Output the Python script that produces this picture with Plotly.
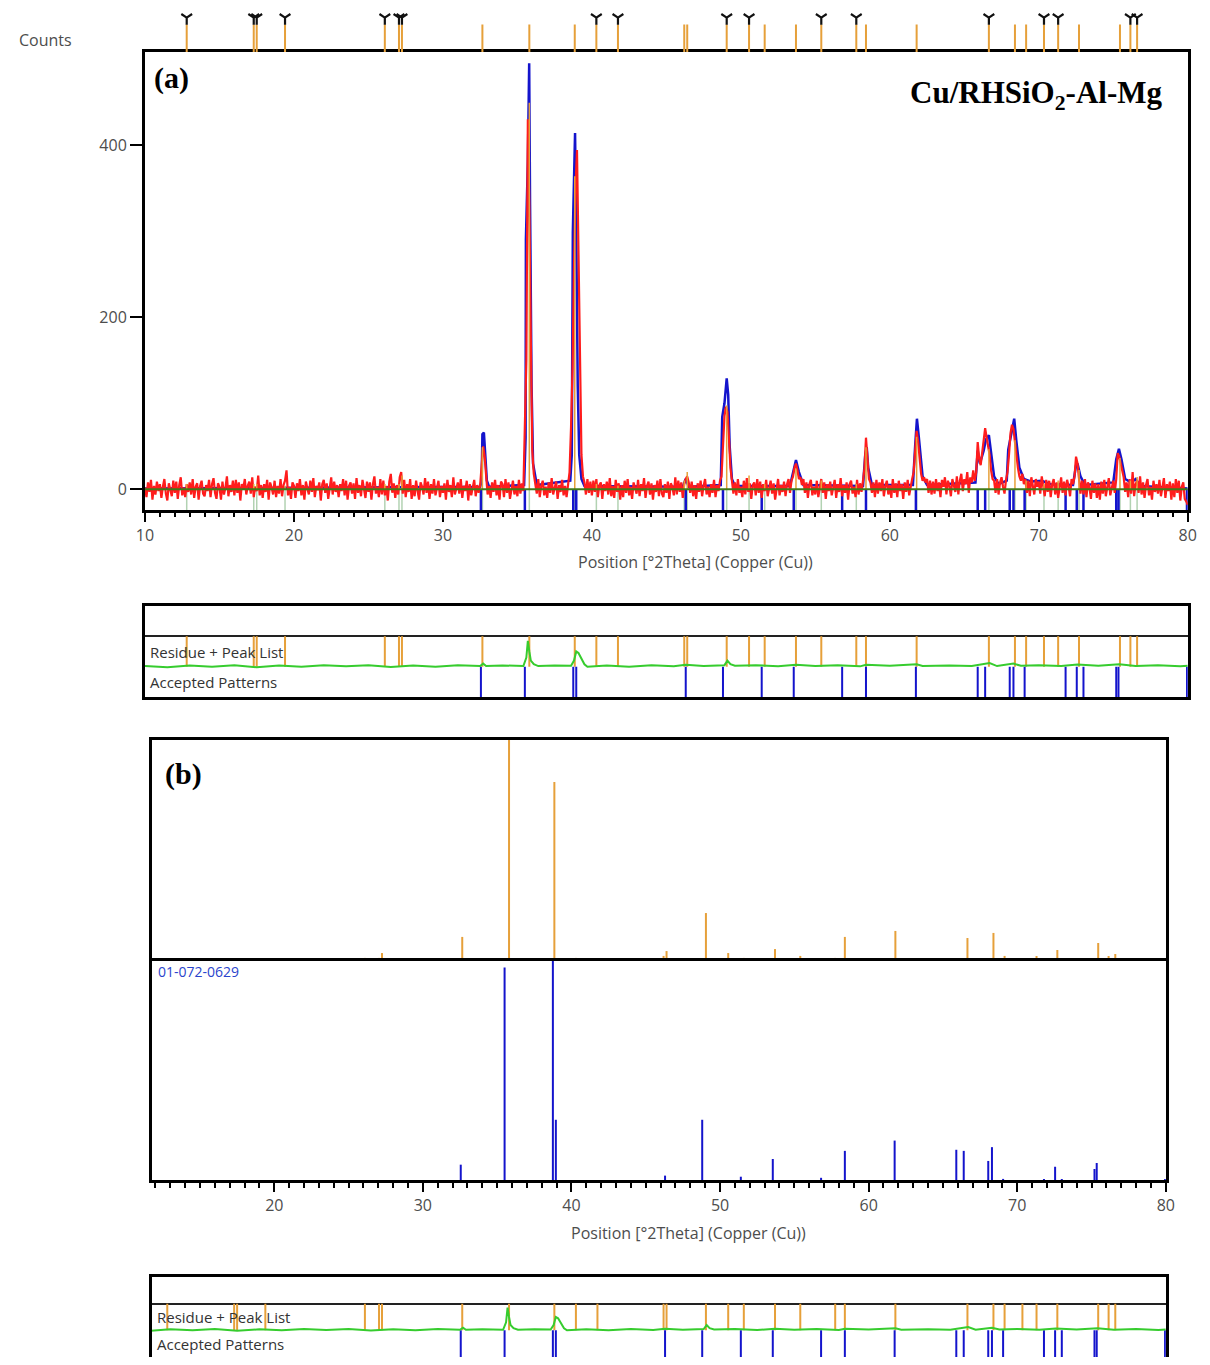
import numpy as np
import plotly.graph_objects as go

# ---------------- data ----------------
SCAN_START, SCAN_STEP = 10.0, 0.1
OBS_Y = [
    2, -9, 8, -3, 11, -12, 4, -6, 9, -2,          # 10
    6, -10, 3, 12, -5, -13, 7, 1, -8, 10,         # 11
    -4, 9, -11, 5, 14, -7, 2, -9, 6, -3,          # 12
    8, -6, 12, -10, 3, 7, -12, 4, 10, -5,         # 13
    -8, 5, -2, 11, -9, 6, 13, -4, -11, 7,         # 14
    3, -12, 9, -6, 2, 15, -8, 5, -3, 10,          # 15
    -7, 11, -4, 8, -13, 6, 1, 12, -6, 4,          # 16
    9, -5, 14, -9, 3, -2, 16, -7, 5, -10,         # 17
    6, -3, 11, -12, 8, 2, -6, 10, -9, 4,          # 18
    -5, 12, -8, 5, 10, 22, -7, 3, -11, 8,         # 19
    4, -10, 7, -2, 12, -7, 5, -12, 9, 1,          # 20
    -6, 10, -3, 13, -9, 4, -1, 8, -13, 6,         # 21
    11, -4, 7, -11, 3, 14, -6, 9, -3, 5,          # 22
    -9, 6, -2, 12, -7, 10, -12, 4, 8, -5,         # 23
    7, -11, 13, -4, 5, -8, 11, -2, -10, 9,        # 24
    -3, 8, -12, 6, 15, -5, 3, -9, 12, -6,         # 25
    10, -7, 4, -13, 9, 18, -4, 7, -10, 5,         # 26
    -6, 14, 20, -5, 11, -9, 6, -3, 12, -11,       # 27
    5, -8, 10, -2, -12, 8, 3, -6, 13, -4,         # 28
    9, -11, 6, -5, 12, -7, 2, 10, -9, 4,          # 29
    -4, 7, -12, 11, -3, 5, -9, 14, -6, 2,         # 30
    8, -5, 12, -10, 4, -2, 10, -13, 6, -7,        # 31
    3, 11, -8, 5, -4, 5, 28, 50, 38, 12,          # 32
    -6, 4, -10, 8, -3, 11, -7, 5, -12, 9,         # 33
    6, -9, 12, -4, 8, -11, 3, 10, -6, 4,          # 34
    -8, 11, -5, 7, -2, 60, 150, 430, 330, 175,    # 35
    45, 18, 8, -5, 12, -9, 4, 10, -7, 3,          # 36
    -10, 8, -4, 13, -6, 2, 9, -11, 5, -3,         # 37
    11, -7, 4, -9, 10, 20, 72, 140, 260, 350,     # 38
    394, 264, 111, 40, 15, 8, -6, 12, -4, 9,      # 39
    -7, 10, -3, 12, -9, 5, 8, -11, 6, -2,         # 40
    9, -6, 13, -8, 4, -10, 11, -3, 7, -12,        # 41
    5, -9, 10, -4, 12, -7, 3, -11, 8, 2,          # 42
    -5, 11, -8, 6, -2, 13, -10, 4, 9, -6,         # 43
    7, -12, 5, -3, 10, -8, 12, -5, -9, 6,         # 44
    -4, 9, -11, 7, 3, -7, 14, -6, 10, -3,         # 45
    8, -10, 6, 12, 15, 8, -4, 9, -8, 5,           # 46
    -11, 7, -3, 10, -8, 4, 12, -6, 3, -9,         # 47
    6, -4, 11, -9, 5, -2, 10, 15, 50, 85,         # 48
    96, 90, 60, 25, 10, -5, 8, -7, 12, -4,        # 49
    3, -9, 10, -6, 13, -3, 7, -11, 5, 8,          # 50
    -7, 12, -4, 9, -10, 6, -2, 11, -8, 4,         # 51
    10, -5, 7, -12, 3, 12, -7, 5, -3, 9,          # 52
    -8, 6, 12, -4, 10, 15, 25, 30, 22, 12,        # 53
    14, 5, 12, -4, 8, -10, 6, 11, -7, 3,          # 54
    -6, 10, -9, 5, 12, -4, 8, -11, 6, -2,         # 55
    9, -7, 4, 11, -10, 6, -3, 13, -8, 5,          # 56
    -4, 8, -12, 6, 10, -5, 3, -9, 11, -6,         # 57
    7, -3, 10, 25, 60, 35, 12, 8, -4, 8,          # 58
    -9, 11, -5, 8, -2, 12, -8, 4, 10, -6,         # 59
    5, -10, 12, -4, 7, -9, 10, -2, 6, -11,        # 60
    8, -3, 11, -7, 4, 12, 20, 50, 68, 55,         # 61
    35, 18, 10, 14, 8, 12, -4, 10, -6, 9,         # 62
    -5, 12, -2, 8, -9, 11, 3, 14, -6, 10,         # 63
    4, -8, 12, 5, -3, 15, -6, 10, 18, -2,         # 64
    12, 6, 20, -4, 14, 8, 22, 10, 20, 55,         # 65
    35, 28, 45, 60, 71, 60, 50, 40, 22, 12,       # 66
    10, -4, 12, -6, 8, 14, 3, -5, 11, 20,         # 67
    40, 65, 75, 70, 55, 35, 25, 15, 10, 18,       # 68
    6, 12, -4, 10, -8, 14, 5, -6, 12, 3,          # 69
    9, -5, 15, 4, -8, 11, -3, 10, -9, 6,          # 70
    12, -6, 8, -10, 5, 14, -4, 9, -7, 11,         # 71
    4, -8, 12, 6, 15, 38, 30, 15, -5, 10,         # 72
    -6, 12, -9, 8, 3, -11, 10, -4, 7, -10,        # 73
    6, -12, 9, -5, 11, -8, 4, 13, -7, 2,          # 74
    10, -4, 12, 42, 38, 30, 20, 14, -3, 8,        # 75
    -9, 12, -5, 20, -8, 6, 10, -4, 15, -6,        # 76
    8, -10, 5, 12, -7, 3, -12, 10, -3, 6,         # 77
    -5, 11, -8, 4, 13, -10, 6, -2, 9, -12,        # 78
    7, -9, 12, -4, 10, -13, 3, 8, -11, -14,       # 79
    -18,                                          # 80
]
OBS_X = [round(SCAN_START + SCAN_STEP * i, 2) for i in range(len(OBS_Y))]

# calculated profile (blue)
CALC_X = [10, 32.5, 32.6, 32.65, 32.75, 32.82, 32.95, 33.1,
          35.45, 35.55, 35.57, 35.7, 35.79, 35.85, 35.95, 36.05, 36.3,
          38.55, 38.65, 38.72, 38.87, 38.95, 39.05, 39.15, 39.3, 39.5,
          46.1, 46.3, 46.5,
          48.65, 48.75, 48.9, 49.05, 49.15, 49.25, 49.4, 49.6,
          53.3, 53.55, 53.7, 53.9, 54.2,
          58.2, 58.35, 58.45, 58.55, 58.8,
          61.55, 61.7, 61.82, 61.95, 62.2, 62.5,
          65.75, 65.9, 66.05, 66.3, 66.45, 66.65, 66.8, 67.0, 67.3,
          67.85, 67.95, 68.1, 68.25, 68.35, 68.5, 68.7, 69.0, 69.5, 70.2, 70.8,
          72.3, 72.5, 72.6, 72.8, 73.1,
          75.0, 75.2, 75.38, 75.55, 75.8, 76.2, 76.5, 76.8, 80]
CALC_Y = [1, 3, 10, 64, 66, 40, 10, 3,
          5, 60, 290, 380, 495, 330, 120, 30, 5,
          10, 40, 298, 414, 300, 120, 40, 12, 4,
          3, 12, 3,
          5, 84, 100, 129, 110, 50, 12, 4,
          4, 25, 34, 20, 5,
          4, 40, 49, 25, 5,
          5, 50, 82, 60, 15, 5,
          8, 45, 30, 45, 58, 63, 40, 15, 6,
          10, 46, 60, 75, 82, 55, 25, 12, 9, 10, 6,
          5, 28, 30, 15, 5,
          8, 35, 47, 35, 12, 8, 12, 4, 1]

BG_X = [10, 80]
BG_Y = [0, 0]

# peak list (orange) - positions, relative intensity (%), flagged peaks
PEAK_POS = [12.8, 17.3, 17.5, 19.4, 26.1, 27.05, 27.25, 32.65, 35.8, 38.85, 40.3,
            41.75, 46.2, 46.4, 49.05, 50.55, 51.6, 53.7, 55.4, 57.75, 58.4, 61.8,
            66.65, 68.4, 69.15, 70.35, 71.3, 72.7, 75.45, 76.15, 76.6]
PEAK_INT = [1.4, 1.4, 1.4, 0.9, 1.4, 1.4, 3.6, 10.9, 100, 81, 1.4,
            0.9, 2.3, 4.5, 21.7, 3.6, 1.4, 5.4, 2.3, 1.4, 10.9, 13.6,
            10.4, 12.7, 2.3, 1.4, 2.3, 5.0, 8.1, 2.3, 3.2]
PEAK_FLAG = [1, 1, 1, 1, 1, 1, 1, 0, 0, 0, 1,
             1, 0, 0, 1, 1, 0, 0, 1, 1, 0, 0,
             1, 0, 0, 1, 1, 0, 0, 1, 1]
PEAK_MAX_COUNTS = 449

# reference pattern 01-072-0629 (blue)
REF_POS = [32.55, 35.5, 38.75, 38.95, 46.3, 48.8, 51.4, 53.55, 56.8, 58.4, 61.75,
           65.9, 66.4, 68.05, 68.3, 69.05, 71.8, 72.55, 73.0, 75.2, 75.35, 79.95]
REF_INT = [7, 97, 100, 27.5, 2, 27.5, 1.5, 9.6, 1, 13.3, 18,
           13.8, 13.3, 8.7, 15, 0.5, 0.5, 6, 0.5, 5, 7.8, 0.5]

# residue (green, in row units)
RES_X = [10, 11.5, 13, 14.5, 16, 17.5, 19, 20.5, 22, 23.5, 25, 26.5, 28, 29.5, 31,
         32.5, 32.7, 32.9, 34, 35.4, 35.6, 35.7, 35.8, 35.9, 36.1, 36.4, 37.5,
         38.6, 38.8, 38.95, 39.1, 39.3, 39.5, 39.7, 41, 42.5, 44, 45.5, 46.3,
         47.5, 48.9, 49.1, 49.3, 49.6, 51, 52.5, 53.7, 55, 56.5, 58, 58.4, 60,
         61.8, 62.2, 64, 65.5, 66.3, 66.7, 67.2, 68.3, 68.8, 70, 71.5, 72.6, 74,
         75.4, 76.5, 78, 79.5, 80]
RES_Y = [0.02, -0.02, 0.04, 0, 0.05, -0.02, 0.04, 0, 0.05, 0.01, 0.05, -0.01, 0.04, 0, 0.05,
         0.02, 0.1, 0.02, 0.04, 0.02, 0.3, 0.85, 0.5, 0.2, 0.08, 0.02, 0.04,
         0.03, 0.2, 0.5, 0.45, 0.25, 0.08, 0.0, 0.04, 0, 0.05, 0.01, 0.06,
         0.02, 0.05, 0.2, 0.08, 0.03, 0.05, 0.01, 0.06, 0.02, 0.05, 0.01, 0.06, 0.03,
         0.08, 0.02, 0.04, 0.02, 0.1, 0.12, 0.02, 0.1, 0.03, 0.05, 0.02, 0.07, 0.03,
         0.08, 0.02, 0.05, 0.01, 0.03]

X_RANGE_A = [10, 80]
X_RANGE_B = [11.77, 80]
Y_RANGE_A = [-24, 508]

# ---------------- colours ----------------
RED = "#ff1c1c"
BLUE = "#1414cc"
ORANGE = "#e6a03a"
GREEN = "#36cc2e"
OLIVE = "#3f7a1a"
PALE = "rgba(170,205,170,0.9)"
TICKC = "#4d4d4d"
FONT = "Open Sans"


def sticks(xs, lo, hi):
    X, Y = [], []
    for x, a, b in zip(xs, lo, hi):
        X += [x, x, None]
        Y += [a, b, None]
    return X, Y


# page layout: the figure is sized to fit the window inside the page body margin
PAGE_W, PAGE_H, BODY = 1210, 1365, 8
W, H = PAGE_W - 2 * BODY, PAGE_H - 2 * BODY
X_OFF, X_SCALE = 14.6, 0.988   # observed horizontal placement of the figure on the page


def fx(p):
    return max(0.0, min(1.0, ((p - X_OFF) / X_SCALE) / W))


def fy(p):
    return min(1.0, max(0.0, 1 - (p - BODY) / H))


A_X = [fx(143), fx(1189)]
B_X = [fx(150), fx(1167)]

fig = go.Figure()
n = len(PEAK_POS)
m = len(REF_POS)

# ---- panel (a) main ----
x, y = sticks(PEAK_POS, [Y_RANGE_A[0]] * n, [0] * n)
fig.add_trace(go.Scatter(x=x, y=y, mode="lines", line=dict(color=PALE, width=1.5),
                         xaxis="x", yaxis="y", hoverinfo="skip"))
x, y = sticks(REF_POS, [Y_RANGE_A[0]] * m, [0] * m)
fig.add_trace(go.Scatter(x=x, y=y, mode="lines", line=dict(color=BLUE, width=2.5),
                         xaxis="x", yaxis="y", hoverinfo="skip"))
fig.add_trace(go.Scatter(x=CALC_X, y=CALC_Y, mode="lines", line=dict(color=BLUE, width=2.5),
                         xaxis="x", yaxis="y"))
fig.add_trace(go.Scatter(x=OBS_X, y=OBS_Y, mode="lines", line=dict(color=RED, width=2.2),
                         xaxis="x", yaxis="y"))
x, y = sticks(PEAK_POS, [0] * n, [v / 100 * PEAK_MAX_COUNTS for v in PEAK_INT])
fig.add_trace(go.Scatter(x=x, y=y, mode="lines", line=dict(color=ORANGE, width=1.5),
                         xaxis="x", yaxis="y", hoverinfo="skip"))
fig.add_trace(go.Scatter(x=BG_X, y=BG_Y, mode="lines", line=dict(color=OLIVE, width=2),
                         xaxis="x", yaxis="y"))

# ---- top peak markers ----
x, y = sticks(PEAK_POS, [0] * n, [1] * n)
fig.add_trace(go.Scatter(x=x, y=y, mode="lines", line=dict(color=ORANGE, width=2),
                         xaxis="x2", yaxis="y2", hoverinfo="skip"))
gx = [p for p, f in zip(PEAK_POS, PEAK_FLAG) if f]
fig.add_trace(go.Scatter(x=gx, y=[1.25] * len(gx), mode="markers",
                         marker=dict(symbol="y-down", size=9, color="#111",
                                     line=dict(color="#111", width=2.2)),
                         xaxis="x2", yaxis="y2"))

# ---- residue panels ----
for xa, ya in (("x3", "y3"), ("x6", "y6")):
    x, y = sticks(PEAK_POS, [0] * n, [1] * n)
    fig.add_trace(go.Scatter(x=x, y=y, mode="lines", line=dict(color=ORANGE, width=2),
                             xaxis=xa, yaxis=ya, hoverinfo="skip"))
    x, y = sticks(REF_POS, [-1] * m, [0] * m)
    fig.add_trace(go.Scatter(x=x, y=y, mode="lines", line=dict(color=BLUE, width=2),
                             xaxis=xa, yaxis=ya, hoverinfo="skip"))
    fig.add_trace(go.Scatter(x=RES_X, y=RES_Y, mode="lines", line=dict(color=GREEN, width=2),
                             xaxis=xa, yaxis=ya))

# ---- panel (b) ----
x, y = sticks(PEAK_POS, [0] * n, PEAK_INT)
fig.add_trace(go.Scatter(x=x, y=y, mode="lines", line=dict(color=ORANGE, width=2),
                         xaxis="x4", yaxis="y4", hoverinfo="skip"))
x, y = sticks(REF_POS, [0] * m, REF_INT)
fig.add_trace(go.Scatter(x=x, y=y, mode="lines", line=dict(color=BLUE, width=2),
                         xaxis="x5", yaxis="y5", hoverinfo="skip"))

box = dict(showline=True, linewidth=3, linecolor="black", mirror=True,
           showgrid=False, zeroline=False)
hidden = dict(showticklabels=False, ticks="")
tickf = dict(family=FONT, size=16, color=TICKC)

layout = dict(
    width=W, height=H, margin=dict(l=0, r=0, t=0, b=0), autosize=False,
    paper_bgcolor="white", plot_bgcolor="white", showlegend=False,
    xaxis=dict(domain=A_X, range=X_RANGE_A, anchor="y", **box,
               ticks="outside", ticklen=9, tickwidth=2, tickcolor="black",
               tick0=0, dtick=10, tickfont=tickf,
               minor=dict(dtick=1, ticks="outside", ticklen=4, tickwidth=1.5, tickcolor="black")),
    yaxis=dict(domain=[fy(510), fy(52)], range=Y_RANGE_A, anchor="x", **box,
               ticks="outside", ticklen=12, tickwidth=2, tickcolor="black",
               tickvals=[0, 200, 400], tickfont=tickf),
    xaxis2=dict(domain=A_X, range=X_RANGE_A, anchor="y2", visible=False),
    yaxis2=dict(domain=[fy(52), fy(8)], range=[0, 1.6], anchor="x2", visible=False),
    xaxis3=dict(domain=A_X, range=X_RANGE_A, anchor="y3", **box, **hidden),
    yaxis3=dict(domain=[fy(697), fy(606)], range=[-1, 2], anchor="x3",
                showline=True, linewidth=3, linecolor="black", mirror=True, zeroline=False,
                tickvals=[1], showgrid=True, gridcolor="#222", gridwidth=2, **hidden),
    xaxis4=dict(domain=B_X, range=X_RANGE_B, anchor="y4", side="top",
                showline=True, linewidth=3, linecolor="black", mirror=False,
                showgrid=False, zeroline=False, **hidden),
    yaxis4=dict(domain=[fy(961), fy(740)], range=[0, 100], anchor="x4", **box, **hidden),
    xaxis5=dict(domain=B_X, range=X_RANGE_B, anchor="y5", **box,
                ticks="outside", ticklen=9, tickwidth=2, tickcolor="black",
                tick0=0, dtick=10, tickfont=tickf,
                minor=dict(dtick=1, ticks="outside", ticklen=5, tickwidth=1.5, tickcolor="black")),
    yaxis5=dict(domain=[fy(1180), fy(961)], range=[0, 100], anchor="x5", **box, **hidden),
    xaxis6=dict(domain=B_X, range=X_RANGE_B, anchor="y6", **box, **hidden),
    yaxis6=dict(domain=[fy(1363), fy(1277)], range=[-1, 2], anchor="x6",
                showline=True, linewidth=3, linecolor="black", mirror=True, zeroline=False,
                tickvals=[1], showgrid=True, gridcolor="#222", gridwidth=2, **hidden),
)
fig.update_layout(**layout)

serif = "Liberation Serif"
ann = [
    dict(text="Counts", x=fx(12), y=fy(40), xanchor="left", yanchor="middle",
         font=dict(family=FONT, size=16, color=TICKC)),
    dict(text="<b>(a)</b>", x=fx(150), y=fy(78), xanchor="left", yanchor="middle",
         font=dict(family=serif, size=30, color="black")),
    dict(text="<b>Cu/RHSiO<sub>2</sub>-Al-Mg</b>", x=fx(1165), y=fy(95), xanchor="right",
         yanchor="middle", font=dict(family=serif, size=31, color="black")),
    dict(text="Position [°2Theta] (Copper (Cu))", x=fx(695), y=fy(562), xanchor="center",
         yanchor="middle", font=dict(family=FONT, size=16, color=TICKC)),
    dict(text="<b>(b)</b>", x=fx(161), y=fy(774), xanchor="left", yanchor="middle",
         font=dict(family=serif, size=30, color="black")),
    dict(text="01-072-0629", x=fx(154), y=fy(972), xanchor="left", yanchor="middle",
         font=dict(family=FONT, size=14, color="#2a44cc")),
    dict(text="Position [°2Theta] (Copper (Cu))", x=fx(688), y=fy(1233), xanchor="center",
         yanchor="middle", font=dict(family=FONT, size=16, color=TICKC)),
]
for axname in ("x3", "x6"):
    ann.append(dict(text="Residue + Peak List", xref=axname + " domain", yref="y" + axname[1:],
                    x=0.003, y=0.5, xanchor="left", yanchor="middle",
                    font=dict(family=FONT, size=15, color="#333")))
    ann.append(dict(text="Accepted Patterns", xref=axname + " domain", yref="y" + axname[1:],
                    x=0.003, y=-0.5, xanchor="left", yanchor="middle",
                    font=dict(family=FONT, size=15, color="#333")))
for a in ann:
    a.setdefault("xref", "paper")
    a.setdefault("yref", "paper")
    a["showarrow"] = False
fig.update_layout(annotations=ann)

fig.write_html("out.html")
